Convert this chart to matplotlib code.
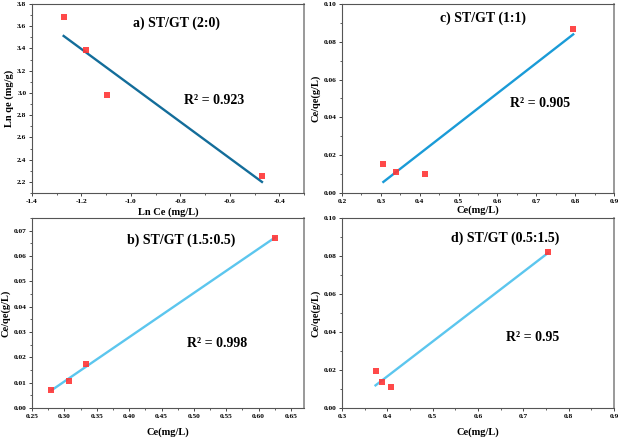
import matplotlib
matplotlib.use("Agg")
import matplotlib.pyplot as plt
import numpy as np
from matplotlib.ticker import FormatStrFormatter, MultipleLocator

plt.rcParams["font.family"] = ["Liberation Serif", "DejaVu Serif"]
plt.rcParams["font.weight"] = "bold"

# panel a) ST/GT (2:0)  - Ln qe vs Ln Ce
a_x = [-1.272, -1.180, -1.097, -0.470]
a_y = [3.68, 3.39, 2.98, 2.25]
# panel b) ST/GT (1.5:0.5)
b_x = [0.280, 0.307, 0.334, 0.625]
b_y = [0.0073, 0.0106, 0.0172, 0.0672]
# panel c) ST/GT (1:1)
c_x = [0.3065, 0.338, 0.414, 0.795]
c_y = [0.0154, 0.0113, 0.0103, 0.0867]
# panel d) ST/GT (0.5:1.5)
d_x = [0.374, 0.388, 0.409, 0.754]
d_y = [0.0194, 0.0136, 0.0110, 0.0822]

panels = [
    # x, y, rect, xlim, ylim, xstep, ystep, xfmt, yfmt, xlabel, ylabel, title, r2,
    # title pos, r2 pos, line colour, xlabel pad
    (a_x, a_y, [0.0516, 0.5614, 0.4387, 0.4295], (-1.4, -0.3), (2.1, 3.8), 0.2, 0.2,
     "%.1f", "%.1f", "Ln Ce (mg/L)", "Ln qe (mg/g)", "a) ST/GT (2:0)", "0.923",
     (0.53, 0.90), (0.67, 0.49), "#136d9a", 2.5),
    (b_x, b_y, [0.0516, 0.0727, 0.4387, 0.432], (0.25, 0.67), (0.0, 0.075), 0.05, 0.01,
     "%.2f", "%.2f", "Ce(mg/L)", "Ce/qe(g/L)", "b) ST/GT (1.5:0.5)", "0.998",
     (0.55, 0.884), (0.68, 0.337), "#5cc6ee", 6),
    (c_x, c_y, [0.5516, 0.5614, 0.4387, 0.4295], (0.2, 0.9), (0.0, 0.10), 0.1, 0.02,
     "%.1f", "%.2f", "Ce(mg/L)", "Ce/qe(g/L)", "c) ST/GT (1:1)", "0.905",
     (0.52, 0.925), (0.73, 0.475), "#1a9bd7", 1),
    (d_x, d_y, [0.5516, 0.0727, 0.4387, 0.432], (0.3, 0.9), (0.0, 0.10), 0.1, 0.02,
     "%.1f", "%.2f", "Ce(mg/L)", "Ce/qe(g/L)", "d) ST/GT (0.5:1.5)", "0.95",
     (0.60, 0.895), (0.70, 0.37), "#5cc6ee", 6),
]

fig = plt.figure(figsize=(6.2, 4.4), dpi=100)

for (x, y, rect, xlim, ylim, xstep, ystep, xfmt, yfmt, xlabel, ylabel, title, r2,
     tpos, rpos, lcolor, xpad) in panels:
    ax = fig.add_axes(rect)
    x = np.asarray(x)
    y = np.asarray(y)
    slope, intercept = np.polyfit(x, y, 1)
    fx = np.array([x.min(), x.max()])
    ax.plot(fx, slope * fx + intercept, color=lcolor, linewidth=1.7, zorder=2)
    ax.plot(x, y, "s", color="#ff3535", markersize=5, markeredgewidth=0, alpha=0.9, zorder=3)
    ax.set_xlim(*xlim)
    ax.set_ylim(*ylim)
    ax.xaxis.set_major_locator(MultipleLocator(xstep))
    ax.xaxis.set_minor_locator(MultipleLocator(xstep / 2))
    ax.yaxis.set_major_locator(MultipleLocator(ystep))
    ax.yaxis.set_minor_locator(MultipleLocator(ystep / 2))
    ax.xaxis.set_major_formatter(FormatStrFormatter(xfmt))
    ax.yaxis.set_major_formatter(FormatStrFormatter(yfmt))
    ax.tick_params(which="major", direction="out", length=2.5, width=0.7,
                   labelsize=5.3, pad=1.5, color="#444444")
    ax.tick_params(which="minor", direction="out", length=1.5, width=0.6, color="#444444")
    for sp in ax.spines.values():
        sp.set_color("#555555")
        sp.set_linewidth(0.8)
    ax.spines["right"].set_linewidth(1.2)
    ax.spines["right"].set_color("#888888")
    ax.set_xlabel(xlabel, fontsize=7.5, fontweight="bold", labelpad=xpad)
    ax.set_ylabel(ylabel, fontsize=7.5, fontweight="bold", labelpad=2)
    ax.text(tpos[0], tpos[1], title, transform=ax.transAxes, ha="center", va="center",
            fontsize=10, fontweight="bold")
    ax.text(rpos[0], rpos[1], "R\u00b2 = " + r2, transform=ax.transAxes,
            ha="center", va="center", fontsize=10, fontweight="bold")

fig.savefig("out.png", dpi=100)
